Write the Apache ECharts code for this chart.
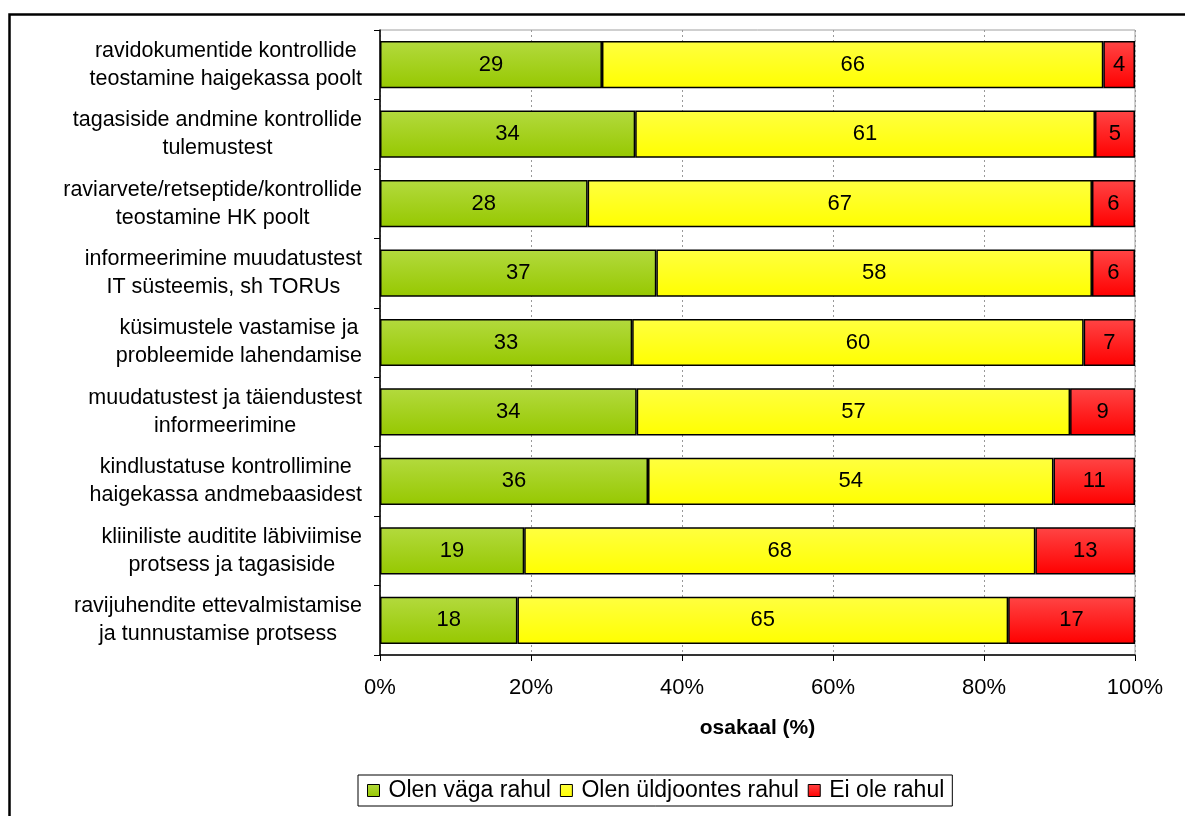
<!DOCTYPE html>
<html>
<head>
<meta charset="utf-8">
<script src="https://cdn.jsdelivr.net/npm/echarts@6/dist/echarts.min.js"></script>
<style>
  html, body { margin: 0; padding: 0; background: #fff; }
  #chart { width: 1185px; height: 816px; }
</style>
</head>
<body>
<div id="chart"></div>
<script>
// kategooriad (ülevalt alla)
var categories = [
  'ravidokumentide kontrollide\nteostamine haigekassa poolt',
  'tagasiside andmine kontrollide\ntulemustest',
  'raviarvete/retseptide/kontrollide\nteostamine HK poolt',
  'informeerimine muudatustest\nIT süsteemis, sh TORUs',
  'küsimustele vastamise ja\nprobleemide lahendamise',
  'muudatustest ja täiendustest\ninformeerimine',
  'kindlustatuse kontrollimine\nhaigekassa andmebaasidest',
  'kliiniliste auditite läbiviimise\nprotsess ja tagasiside',
  'ravijuhendite ettevalmistamise\nja tunnustamise protsess'
]
var seriesNames = ['Olen väga rahul', 'Olen üldjoontes rahul', 'Ei ole rahul']
var vagaRahul = [29.4, 33.8, 27.5, 36.6, 33.4, 34.0, 35.5, 19.1, 18.2]
var uldjoontesRahul = [66.4, 60.9, 66.8, 57.7, 59.8, 57.4, 53.7, 67.7, 65.0]
var eiOleRahul = [4.2, 5.3, 5.7, 5.7, 6.8, 8.6, 10.8, 13.2, 16.8]
var xTicks = [0, 20, 40, 60, 80, 100]

var font = "'Liberation Sans', Arial, sans-serif"

function grad(top, bottom) {
  return new echarts.graphic.LinearGradient(0, 0, 0, 1, [
    { offset: 0, color: top },
    { offset: 1, color: bottom }
  ])
}

function barSeries(name, data, top, bottom) {
  return {
    name: name,
    type: 'bar',
    stack: 'total',
    data: data,
    barWidth: '68%',
    itemStyle: { color: grad(top, bottom), borderColor: '#000', borderWidth: 1.5 },
    label: {
      show: true,
      position: 'inside',
      color: '#000',
      fontFamily: font,
      fontSize: 22,
      formatter: function (p) { return Math.round(p.value) }
    },
    emphasis: { disabled: true }
  }
}

var chart = echarts.init(document.getElementById('chart'))
chart.setOption({
  animation: false,
  backgroundColor: '#fff',
  textStyle: { fontFamily: font },
  graphic: [{
    type: 'rect',
    left: 7, top: 12,
    shape: { width: 1250, height: 900 },
    style: { fill: 'none', stroke: '#000', lineWidth: 2.5 },
    z: -1
  }],
  grid: {
    left: 380, right: 50, top: 30, bottom: 161,
    show: true, borderColor: '#a0a0a0', borderWidth: 1
  },
  legend: {
    left: 358, top: 775,
    padding: [4, 8, 4, 9],
    borderColor: '#000', borderWidth: 1,
    itemWidth: 12, itemHeight: 12, itemGap: 9,
    icon: 'rect',
    textStyle: { color: '#000', fontSize: 23, fontFamily: font, padding: [0, 0, 0, 4] },
    itemStyle: { borderColor: '#000', borderWidth: 1 },
    data: seriesNames
  },
  xAxis: {
    type: 'value',
    min: xTicks[0], max: xTicks[xTicks.length - 1], interval: 20,
    axisLine: { show: true, lineStyle: { color: '#000', width: 1.5 } },
    axisTick: { show: true, length: 6, lineStyle: { color: '#000' } },
    axisLabel: { formatter: '{value}%', color: '#000', fontSize: 22, fontFamily: font, margin: 22 },
    splitLine: { show: true, lineStyle: { color: '#999', type: [2, 3], width: 1 } },
    name: 'osakaal (%)',
    nameLocation: 'middle',
    nameGap: 63,
    nameTextStyle: { color: '#000', fontSize: 21, fontWeight: 'bold', fontFamily: font }
  },
  yAxis: {
    type: 'category',
    inverse: true,
    data: categories,
    axisLine: { show: true, lineStyle: { color: '#000', width: 1.5 } },
    axisTick: { show: true, length: 6, lineStyle: { color: '#000' } },
    axisLabel: {
      color: '#000',
      margin: 18,
      formatter: function (v) {
        return v.split('\n').map(function (s) { return '{c|' + s + '}' }).join('\n')
      },
      rich: { c: { align: 'center', fontSize: 21.5, lineHeight: 28, fontFamily: font, color: '#000' } }
    }
  },
  series: [
    barSeries(seriesNames[0], vagaRahul, '#b3da3e', '#96c800'),
    barSeries(seriesNames[1], uldjoontesRahul, '#ffff40', '#ffff00'),
    barSeries(seriesNames[2], eiOleRahul, '#ff4545', '#ff0000')
  ]
})
</script>
</body>
</html>
